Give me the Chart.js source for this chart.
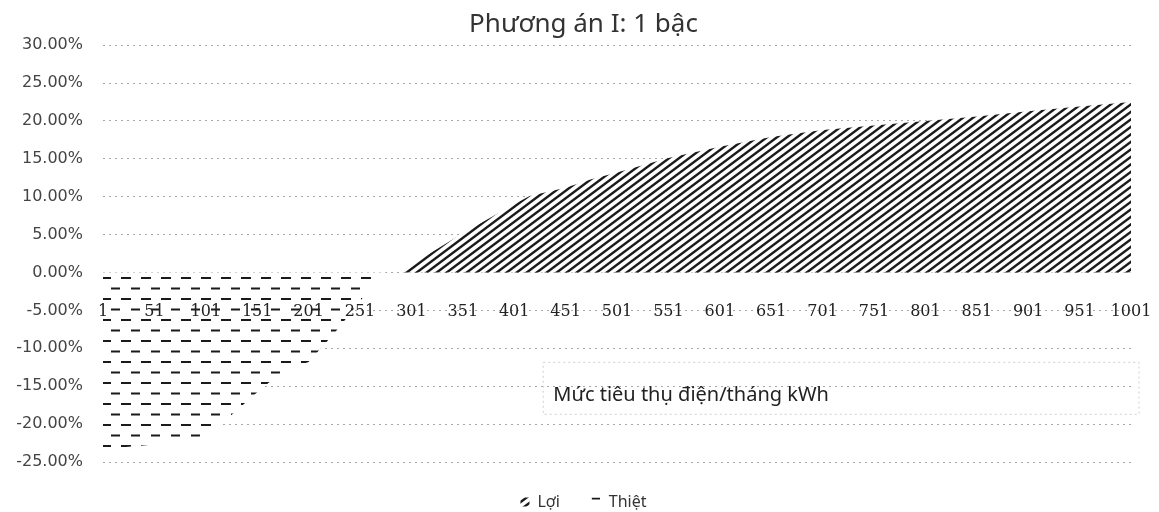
<!DOCTYPE html>
<html>
<head>
<meta charset="utf-8">
<script src="https://cdn.jsdelivr.net/npm/chart.js@4/dist/chart.umd.min.js"></script>
<style>html,body{margin:0;background:#fff}</style>
</head>
<body>
<canvas id="c" width="1159" height="512"></canvas>
<script>
// kWh/tháng và chênh lệch (%)
const kwh   = [1, 26, 51, 76, 101, 126, 151, 176, 201, 226, 251, 263, 276, 291, 301, 326, 351, 376, 401, 416, 451, 476, 501, 551, 601, 651, 701, 751, 801, 851, 901, 951, 1001];
const loi   = [0, 0, 0, 0, 0, 0, 0, 0, 0, 0, 0, 0, 0, 0, 1.1, 3.1, 5.2, 7.1, 9.0, 10.1, 11.2, 12.3, 13.2, 15.1, 16.6, 17.9, 18.8, 19.4, 20.0, 20.6, 21.3, 21.9, 22.5];
const thiet = [-23.3, -23.0, -22.7, -22.2, -21.5, -18.8, -15.8, -13.0, -11.8, -8.0, -3.8, -1.7, 0, 0, 0, 0, 0, 0, 0, 0, 0, 0, 0, 0, 0, 0, 0, 0, 0, 0, 0, 0, 0];
const xTicks = [1, 51, 101, 151, 201, 251, 301, 351, 401, 451, 501, 551, 601, 651, 701, 751, 801, 851, 901, 951, 1001];
const yTicks = [-25, -20, -15, -10, -5, 0, 5, 10, 15, 20, 25, 30];

// hatch patterns
function diagPattern() {
  const c = document.createElement('canvas');
  c.width = 20; c.height = 15;
  const g = c.getContext('2d');
  g.fillStyle = '#fff'; g.fillRect(0, 0, 20, 15);
  g.strokeStyle = '#1a1a1a'; g.lineWidth = 2.4;
  for (let x0 = -40; x0 <= 40; x0 += 10) {
    g.beginPath(); g.moveTo(x0 - 20, 30); g.lineTo(x0 + 40, -15); g.stroke();
  }
  return g.createPattern(c, 'repeat');
}
function dashPattern() {
  const c = document.createElement('canvas');
  c.width = 20; c.height = 21;
  const g = c.getContext('2d');
  g.fillStyle = '#fff'; g.fillRect(0, 0, 20, 21);
  g.fillStyle = '#1a1a1a';
  g.fillRect(1, 4, 10, 2);
  g.fillRect(11, 14.5, 10, 2);
  return g.createPattern(c, 'repeat');
}

const axisTitle = {
  id: 'axisTitle',
  afterDraw(chart) {
    const {ctx, scales} = chart;
    const x = scales.x.getPixelForValue(439);
    const y = scales.y.getPixelForValue(-16.2);
    ctx.save();
    ctx.strokeStyle = '#cfcfcf'; ctx.setLineDash([2, 3]); ctx.lineWidth = 1;
    ctx.strokeRect(x - 10, y - 33, chart.chartArea.right + 8 - (x - 10), 52);
    ctx.setLineDash([]);
    ctx.font = '20px "Noto Sans"';
    ctx.fillStyle = '#222';
    ctx.textAlign = 'left'; ctx.textBaseline = 'middle';
    ctx.fillText('Mức tiêu thụ điện/tháng kWh', x, y);
    ctx.restore();
  }
};

new Chart(document.getElementById('c'), {
  type: 'line',
  data: {
    datasets: [
      { label: 'Lợi', data: kwh.map((k, i) => ({x: k, y: loi[i]})), backgroundColor: diagPattern(),
        borderColor: 'rgba(0,0,0,0)', borderWidth: 0, pointRadius: 0, fill: 'origin', tension: 0 },
      { label: 'Thiệt', data: kwh.map((k, i) => ({x: k, y: thiet[i]})), backgroundColor: dashPattern(),
        borderColor: 'rgba(0,0,0,0)', borderWidth: 0, pointRadius: 0, fill: 'origin', tension: 0 }
    ]
  },
  options: {
    responsive: false,
    animation: false,
    layout: { padding: { top: 0, bottom: -8, left: 16, right: 8 } },
    plugins: {
      title: { display: true, text: 'Phương án I: 1 bậc', color: '#333',
        font: { family: '"Noto Sans"', size: 26, weight: 'normal', lineHeight: 1.2 }, padding: { top: 9, bottom: 5 } },
      legend: { position: 'bottom',
        labels: { color: '#333', boxWidth: 9, boxHeight: 9, padding: 32, font: { family: '"Noto Sans"', size: 16 } } },
      tooltip: { enabled: false }
    },
    scales: {
      x: {
        type: 'linear', min: 1, max: 1001,
        position: { y: 0 },
        grid: { display: false }, border: { display: false },
        afterBuildTicks: s => { s.ticks = xTicks.map(v => ({ value: v })); },
        afterFit: s => { s.paddingLeft = 0; s.paddingRight = 28; },
        ticks: { z: 1, autoSkip: false, maxRotation: 0, padding: 22, color: '#222',
          font: { family: '"DejaVu Serif"', size: 16 }, callback: v => String(v) }
      },
      y: {
        min: -25, max: 30,
        afterBuildTicks: s => { s.ticks = yTicks.map(v => ({ value: v })); },
        afterFit: s => { s.width = 87; },
        grid: { color: '#a8a8a8', lineWidth: 1, drawTicks: false },
        border: { display: false, dash: [2, 4] },
        ticks: { padding: 20, color: '#444', font: { family: '"DejaVu Sans"', size: 16 },
          callback: v => v.toFixed(2) + '%' }
      }
    }
  },
  plugins: [axisTitle]
});
</script>
</body>
</html>
